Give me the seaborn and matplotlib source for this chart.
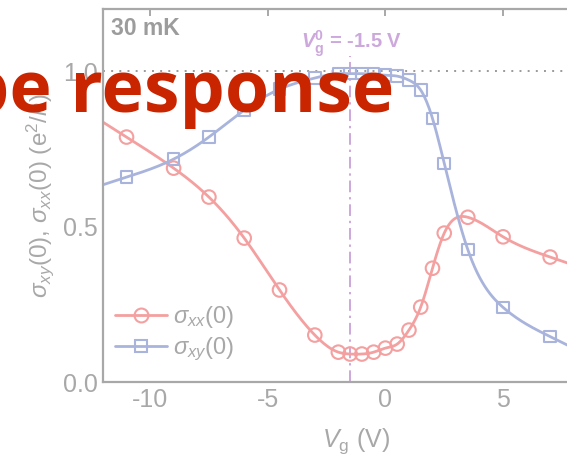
import numpy as np
import pandas as pd
import matplotlib
matplotlib.use("Agg")
import matplotlib.pyplot as plt
from matplotlib.lines import Line2D
from matplotlib.ticker import MultipleLocator
import seaborn as sns

# ---- data ----
vg_xx = [-11, -9, -7.5, -6, -4.5, -3, -2, -1.5, -1, -0.5, 0, 0.5, 1, 1.5, 2, 2.5, 3.5, 5, 7]
sigma_xx = [0.788, 0.688, 0.595, 0.463, 0.296, 0.151, 0.096, 0.090, 0.090, 0.096,
            0.109, 0.122, 0.167, 0.241, 0.366, 0.479, 0.530, 0.467, 0.402]
vg_xy = [-11, -9, -7.5, -6, -4.5, -3, -2, -1.5, -1, -0.5, 0, 0.5, 1, 1.5, 2, 2.5, 3.5, 5, 7]
sigma_xy = [0.659, 0.717, 0.788, 0.875, 0.942, 0.978, 0.992, 0.992, 0.992, 0.990,
            0.987, 0.984, 0.971, 0.939, 0.848, 0.703, 0.426, 0.240, 0.146]
vg0 = -1.5
x_ticks = [-10, -5, 0, 5]
y_ticks = [0.0, 0.5, 1.0]
legend_labels = [r"$\sigma_{xx}$(0)", r"$\sigma_{xy}$(0)"]
overlay_text = "pe response"

RED = "#f4a0a0"
BLUE = "#a9b4dc"
GRAY = "#a8a8a8"
PURPLE = "#cda8dc"


def natural_spline(x, y, xs):
    x = np.asarray(x, float)
    y = np.asarray(y, float)
    n = len(x)
    h = np.diff(x)
    A = np.zeros((n, n))
    r = np.zeros(n)
    A[0, 0] = A[-1, -1] = 1
    for i in range(1, n - 1):
        A[i, i - 1] = h[i - 1]
        A[i, i] = 2 * (h[i - 1] + h[i])
        A[i, i + 1] = h[i]
        r[i] = 6 * ((y[i + 1] - y[i]) / h[i] - (y[i] - y[i - 1]) / h[i - 1])
    M = np.linalg.solve(A, r)
    out = []
    for t in xs:
        if t < x[0]:
            s = (y[1] - y[0]) / h[0] - h[0] * (2 * M[0] + M[1]) / 6
            out.append(y[0] + s * (t - x[0]))
            continue
        if t > x[-1]:
            s = (y[-1] - y[-2]) / h[-1] + h[-1] * (M[-2] + 2 * M[-1]) / 6
            out.append(y[-1] + s * (t - x[-1]))
            continue
        i = int(np.clip(np.searchsorted(x, t) - 1, 0, n - 2))
        a = x[i + 1] - t
        b = t - x[i]
        out.append(M[i] * a**3 / (6 * h[i]) + M[i + 1] * b**3 / (6 * h[i])
                   + (y[i] / h[i] - M[i] * h[i] / 6) * a
                   + (y[i + 1] / h[i] - M[i + 1] * h[i] / 6) * b)
    return np.array(out)


sns.set_style("white")
plt.rcParams["font.family"] = ["Liberation Sans", "DejaVu Sans"]
plt.rcParams["mathtext.fontset"] = "custom"
plt.rcParams["mathtext.rm"] = "Liberation Sans"
plt.rcParams["mathtext.it"] = "Liberation Sans:italic"
plt.rcParams["mathtext.bf"] = "Liberation Sans:bold"
plt.rcParams["mathtext.bfit"] = "Liberation Sans:italic:bold"

FS = 18

fig = plt.figure(figsize=(5.67, 4.63), dpi=100)
ax = fig.add_axes([103 / 567, 81 / 463, (609 - 103) / 567, (382 - 9) / 463])
ax.set_xlim(-12, 9.5)
ax.set_ylim(0, 1.2)

xs = np.linspace(-12, 9.5, 400)
curve = pd.DataFrame({"Vg": np.concatenate([xs, xs]),
                      "sigma": np.concatenate([natural_spline(vg_xx, sigma_xx, xs),
                                               natural_spline(vg_xy, sigma_xy, xs)]),
                      "kind": ["xx"] * len(xs) + ["xy"] * len(xs)})
pts_xx = pd.DataFrame({"Vg": vg_xx, "sigma": sigma_xx})
pts_xy = pd.DataFrame({"Vg": vg_xy, "sigma": sigma_xy})

# reference lines
ax.axhline(1.0, color="#9a9a9a", lw=1.4, dashes=(1, 3.2), zorder=1)
ax.axvline(vg0, ymin=0, ymax=1.05 / 1.2, color=PURPLE, lw=1.4,
           dashes=(6, 2.5, 1.2, 2.5), zorder=1)

sns.lineplot(data=curve, x="Vg", y="sigma", hue="kind", palette={"xx": RED, "xy": BLUE},
             lw=2, legend=False, ax=ax, zorder=2)
sns.scatterplot(data=pts_xx, x="Vg", y="sigma", marker="o", s=95, facecolors="none",
                edgecolor=RED, linewidth=1.5, legend=False, ax=ax, zorder=3)
sns.scatterplot(data=pts_xy, x="Vg", y="sigma", marker="s", s=70, facecolors="none",
                edgecolor=BLUE, linewidth=1.5, legend=False, ax=ax, zorder=3)

# axes styling
for side in ["left", "bottom", "top", "right"]:
    ax.spines[side].set_color(GRAY)
    ax.spines[side].set_linewidth(1.6)
ax.set_xticks(x_ticks)
ax.set_yticks(y_ticks)
ax.set_yticklabels([f"{v:.1f}" for v in y_ticks])
ax.set_xticklabels([f"{v:d}" for v in x_ticks])
ax.yaxis.set_minor_locator(MultipleLocator(0.1))
ax.tick_params(axis="both", which="both", direction="in", color=GRAY, width=1.4,
               labelcolor=GRAY, labelsize=FS, top=True, right=False)
ax.tick_params(axis="both", which="major", length=5, pad=4)
ax.tick_params(axis="y", which="minor", length=5)

ax.set_xlabel(r"$V_\mathrm{g}$ (V)", fontsize=FS, color=GRAY)
ax.xaxis.set_label_coords(0.5, -0.12)
ax.set_ylabel(r"$\sigma_{xy}$(0), $\sigma_{xx}$(0) (e$^2$/$h$)", fontsize=17.5, color=GRAY)
ax.yaxis.set_label_coords(-0.093, 0.50)

ax.text(0.016, 0.978, "30 mK", transform=ax.transAxes, ha="left", va="top",
        fontsize=16.5, fontweight="bold", color="#9c9c9c")
ax.text(vg0 + 0.05, 1.075, r"$\mathbfit{V}_\mathbf{g}^\mathbf{0}$ = -1.5 V", ha="center",
        va="baseline", fontsize=14.5, fontweight="bold", color=PURPLE)

handles = [Line2D([], [], color=RED, lw=2, marker="o", ms=10, mfc="none", mew=1.5),
           Line2D([], [], color=BLUE, lw=2, marker="s", ms=8.5, mfc="none", mew=1.5)]
leg = ax.legend(handles, legend_labels, loc="lower left", bbox_to_anchor=(0.024, 0.05),
                frameon=False, fontsize=17, handlelength=2.2, handletextpad=0.25,
                labelspacing=0.25, borderaxespad=0, borderpad=0)
for t in leg.get_texts():
    t.set_color(GRAY)

fig.text(394 / 567, 1 - 112 / 463, overlay_text, ha="right", va="baseline",
         fontsize=51.5, fontweight="bold", family="Open Sans", color="#c92500", zorder=10)

fig.savefig("out.png", dpi=100)
